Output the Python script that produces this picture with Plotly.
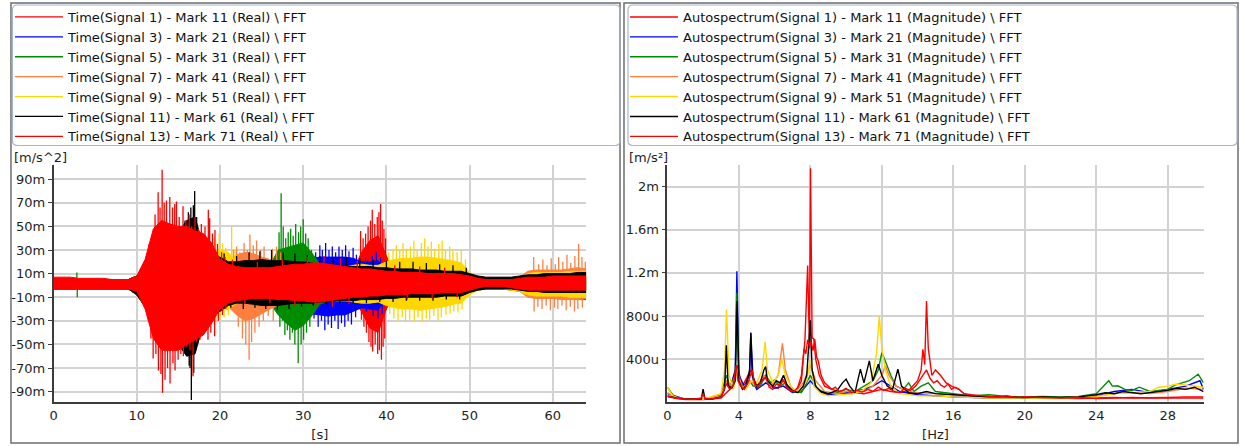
import plotly.graph_objects as go

# ---------------- data ----------------
# time axis of the envelope samples [s]
t_env = list(range(0, 65))

# time signals, values in m/s^2 * 1e-3 ("m")
# dense core of each signal: upper / lower level per second
sig1_top = [5]*10 + [8,18,30,35,35,35,30,25,22,18] + [14]*10 + [13,13,13,13,13,13,12,28,38,42] + \
           [25,9,9,9,9,9,9,9,9,9] + [6]*15
sig1_bot = [-3]*10 + [-8,-18,-30,-35,-35,-35,-30,-25,-22,-18] + [-11]*10 + \
           [-11,-11,-11,-11,-11,-11,-11,-22,-36,-40] + [-20,-7,-7,-7,-7,-7,-7,-7,-7,-7] + [-3]*15
sig3_top = [5]*10 + [8,18,30,35,35,35,30,25,22,16] + [14,13,13,13,13,13,13,13,14,15] + \
           [18,23,24,24,24,24,23,20,20,21] + [12,11,11,11,11,11,11,11,11,11] + [6]*15
sig3_bot = [-3]*10 + [-8,-18,-30,-35,-35,-35,-30,-25,-22,-15] + [-12,-11,-11,-11,-11,-11,-11,-11,-12,-13] + \
           [-18,-24,-25,-26,-25,-25,-22,-19,-20,-21] + [-10,-9,-9,-9,-9,-9,-9,-9,-9,-9] + [-3]*15
sig5_top = [5]*10 + [8,18,30,35,35,35,30,25,22,18] + [16,15,15,15,15,15,17,30,32,34] + \
           [36,28,18,16,15,15,15,15,15,15] + [12]*10 + [7,6,5,5,5,6,7,9,10,10] + [10,11,11,12,12]
sig5_bot = [-3]*10 + [-8,-18,-30,-35,-35,-35,-30,-25,-22,-18] + [-15,-13,-13,-13,-13,-13,-15,-25,-32,-38] + \
           [-34,-26,-16,-13,-13,-13,-13,-13,-13,-13] + [-10]*10 + [-5,-4,-3,-3,-3,-4,-5,-8,-9,-10] + \
           [-10,-11,-11,-12,-12]
sig7_top = [5]*10 + [8,18,30,35,35,35,30,25,22,20] + [18,20,26,28,27,24,22,20,18,17] + \
           [16,15,15,15,15,15,15,15,15,15] + [12]*10 + [7,6,5,5,5,6,7,12,13,13] + [13,13,14,15,14]
sig7_bot = [-3]*10 + [-8,-18,-30,-35,-35,-35,-30,-25,-22,-20] + [-17,-18,-25,-30,-28,-24,-20,-17,-15,-14] + \
           [-13]*10 + [-10]*10 + [-5,-4,-3,-3,-3,-4,-5,-10,-11,-11] + [-11,-12,-12,-12,-11]
sig9_top = [5]*10 + [8,18,30,35,35,35,30,28,28,30] + [30,28,20,18,18,17,17,16,16,16] + \
           [16,16,16,16,16,16,17,18,17,17] + [20,22,23,23,24,24,23,22,21,19] + [11,7,5,5,5,6,7,10,11,11] + \
           [11,11,12,12,12]
sig9_bot = [-3]*10 + [-8,-18,-30,-35,-35,-35,-30,-28,-26,-22] + [-22,-20,-15,-14,-14,-13,-13,-13,-13,-13] + \
           [-13,-13,-13,-13,-13,-13,-14,-15,-15,-14] + [-17,-19,-20,-20,-21,-20,-19,-18,-16,-15] + \
           [-8,-4,-3,-3,-3,-4,-5,-8,-9,-9] + [-9,-9,-10,-10,-10]
sig11_top = [5]*10 + [8,18,30,38,42,45,55,58,33,25] + [24,20,20,21,21,22,21,21,21,20] + \
            [20,19,18,18,17,17,16,16,16,15] + [15,14,14,14,13,13,13,12,12,12] + [10,8,7,7,7,7,8,9,9,10] + \
            [10,10,10,11,11]
sig11_bot = [-3]*10 + [-8,-18,-30,-38,-45,-50,-60,-58,-33,-24] + [-22,-17,-15,-15,-16,-17,-17,-17,-16,-15] + \
            [-15,-15,-14,-14,-13,-13,-13,-12,-12,-12] + [-11,-11,-10,-10,-10,-10,-10,-9,-9,-9] + \
            [-6,-4,-3,-3,-3,-3,-4,-5,-5,-6] + [-6,-6,-6,-6,-6]
sig13_top = [7,7,7,6,6,6,6,5,5,5] + [8,22,48,55,52,50,50,46,44,36] + [22,18,16,15,15,15,15,16,17,18] + \
            [18,19,19,18,17,16,15,14,14,13] + [12,12,11,11,11,10,10,10,10,9] + [8,6,5,5,5,5,6,7,7,7] + \
            [8,8,8,8,8]
sig13_bot = [-3]*10 + [-5,-20,-45,-55,-55,-55,-50,-46,-42,-32] + [-20,-15,-13,-12,-11,-11,-11,-12,-12,-13] + \
            [-13,-14,-14,-13,-12,-11,-10,-10,-9,-9] + [-8,-8,-8,-7,-7,-7,-7,-6,-6,-6] + \
            [-4,-2,-1,-1,-1,-2,-3,-4,-4,-4] + [-4]*5

# individual peaks sticking out of the core: time [s], value ("m")
sig1_spk_t = [36.9,37.0,37.2,37.3,37.5,37.6,37.8,37.9,38.1,38.15,38.3,38.35,38.6,38.65,38.9,38.95,
              39.1,39.15,39.3,39.4,39.5,39.6,39.7,39.8,39.9]
sig1_spk_v = [46,-29,40,-35,44,-40,50,-48,55,-52,64,-56,52,-50,58,-58,62,-55,69,-63,55,-52,48,-45,40]
sig3_spk_t = [31.3,31.5,31.8,32.0,32.2,32.3,32.6,32.7,33.0,33.1,33.4,33.5,33.8,33.9,34.2,34.3,34.6,34.7,
              35.0,35.1,35.4,35.5,35.8,36.0,36.3,36.4,37.5,37.6,38.3,38.4,38.8,39.0,39.3,39.5]
sig3_spk_v = [-28,28,-35,34,-30,30,-38,36,-33,30,-36,33,-30,28,-37,33,-32,30,-35,34,-30,29,-33,32,-27,26,
              24,-22,25,-26,28,-28,24,-24]
sig5_spk_t = [2.8,2.85,27.1,27.2,27.35,27.5,27.6,27.8,27.9,28.1,28.2,28.4,28.5,28.7,28.8,29.0,29.1,29.4,
              29.45,29.7,29.75,30.0,30.05,30.3,30.4,30.6,30.8,31.0]
sig5_spk_v = [11,-10,45,-35,78,-30,50,-42,40,-38,45,-46,48,-40,42,-50,52,-66,45,50,-50,56,-46,44,-40,40,-35,30]
sig7_spk_t = [21.6,22.0,22.2,22.4,22.7,22.9,23.1,23.3,23.5,23.6,23.8,24.0,24.2,24.4,24.7,24.9,25.2,25.3,
              25.8,26.3,26.4,26.8,27.3,57.7,57.75,58.2,58.3,58.7,58.8,59.2,59.3,59.7,59.8,60.2,60.3,60.6,
              60.7,61.1,61.2,61.6,61.7,62.1,62.15,62.6,62.65,63.0,63.1,63.5,63.55,63.9]
sig7_spk_v = [30,33,-35,28,-45,36,-50,30,-63,43,-48,34,-40,38,-35,30,-30,33,-26,31,-30,33,28,24,-22,-18,18,
              -20,22,-17,17,-21,23,-19,18,-20,24,-17,20,-21,26,-18,19,-22,25,-20,35,24,-19,20]
sig9_spk_t = [19.3,19.5,19.9,20.0,20.3,20.5,20.7,21.0,21.4,21.8,40.3,40.4,40.8,40.9,41.2,41.4,41.6,41.9,
              42.0,42.3,42.4,42.8,42.9,43.3,43.35,43.7,43.8,44.2,44.3,44.6,44.8,45.0,45.2,45.4,45.7,45.8,
              46.2,46.3,46.6,46.7,47.1,47.15,47.6,47.65,48.0,48.1,48.5,48.6,49.0,49.1,49.5]
sig9_spk_v = [40,-30,44,-29,36,-27,32,-25,50,30,28,-24,30,-28,34,-30,30,-27,36,-31,31,-29,33,38,-30,30,-27,
              36,-31,40,-28,33,-29,37,-26,31,-30,35,-27,38,30,-25,33,-24,30,-22,28,-23,30,-20,22]
sig11_spk_t = [15.8,15.9,16.2,16.3,16.4,16.5,16.56,16.8,16.85,16.96,17.1,17.2,
               20.5,21.3,22.0,22.8,23.5,24.2,24.8,25.5,26.2,26.9,27.6,28.3,29.0,29.8,30.5,31.2,32.0,32.8,
               33.6,34.4,35.2,36.0,36.8,37.6,38.4,39.2,40.0,40.8,41.6,42.4,43.2,44.0,44.8,45.6,46.4,47.2,
               48.0,48.8,49.6]
sig11_spk_v = [55,-55,62,-68,-70,66,-97,68,-74,80,-55,58,
               27,-19,25,-20,28,-19,29,-20,30,-21,28,-20,27,-18,26,-17,25,-16,
               24,-16,24,-15,23,-15,22,-14,21,-14,20,-13,20,-13,19,-13,18,-12,
               17,-12,15]
sig13_spk_t = [11.4,11.5,11.7,11.8,11.97,12.2,12.3,12.57,12.6,12.8,12.9,13.05,13.09,13.3,13.4,13.57,13.7,
               13.97,14.0,14.3,14.35,14.56,14.6,14.77,14.97,15.1,15.3,15.56,15.6,15.9,16.0,16.3,16.4,16.6,
               16.76,17.0,17.2,17.4,17.6,17.76,18.0,18.2,18.56,18.6,18.76,18.9,19.1,19.36,19.4,19.7,19.8,
               20.2,20.3,20.6,20.7,
               21.5,23.0,24.5,26.0,27.5,29.0,30.5,31.5,32.5,33.5,34.5,35.5,36.5,41.0,42.5,44.0,45.5,47.0,48.5]
sig13_spk_v = [-30,35,-45,42,-62,60,-58,79,-72,66,-75,98,-91,70,-80,72,-70,75,-83,66,-66,69,-72,71,-63,58,
               -58,67,-60,55,-52,60,-55,50,-77,58,-48,48,-46,52,-42,50,-46,64,57,-40,44,-43,47,35,-30,28,
               -25,24,-20,
               22,-16,20,-15,22,-17,24,-19,25,-18,23,-16,21,17,-12,16,-11,15,-10]

# autospectra: frequency [Hz] and magnitude in (m/s^2) * 1e-6 ("u")
spec1_f = [0,1,2,3,3.5,3.9,4.2,4.67,5.0,5.47,5.8,6.2,6.44,6.8,7.2,7.5,7.7,7.85,7.95,8.01,8.1,8.2,8.3,8.5,8.8,
           9.2,9.6,10,10.5,11,11.5,12,12.5,13,13.5,14.0,14.2,14.3,14.4,14.5,14.6,14.8,15.0,15.3,15.6,15.9,
           16.3,16.6,17,18,19,20,21,22,23,24,25,26,27,28,29,30]
spec1_v = [50,25,25,40,120,344,150,298,130,245,150,130,215,120,100,200,585,1267,500,2170,600,585,400,250,150,
           120,100,80,90,80,100,120,100,90,110,200,300,492,350,938,500,250,300,246,180,150,
           123,80,60,50,50,45,40,40,35,40,45,40,40,45,50,50]
spec3_f = [0,1,2,3,3.3,3.5,3.8,3.89,4.0,4.3,4.6,4.67,4.8,5,5.5,6,6.5,7,7.5,8,8.5,9,10,11,11.5,12,12.5,13,14,
           15,16,18,20,22,24,25,26,27,28,29,29.8,30]
spec3_v = [80,30,30,60,200,120,300,1215,250,150,250,646,200,120,180,130,150,90,100,200,100,70,90,120,150,200,
           150,100,70,60,50,40,40,40,60,100,120,90,120,150,200,120]
spec5_f = [0,0.3,0.6,1,2,2.5,3,3.3,3.5,3.8,3.89,4.0,4.3,4.6,4.8,5.2,5.5,5.8,6.0,6.3,6.6,7,7.5,8,8.4,9,9.5,10,
           10.5,11,11.5,11.8,12.0,12.2,12.5,12.8,13.2,13.5,13.8,14.2,14.6,15,16,17,18,19,20,21,22,23,24,24.7,
           24.9,25.2,25.6,26,26.4,27,27.5,28,28.4,28.8,29.2,29.7,30]
spec5_v = [140,70,40,30,30,35,70,250,150,250,1015,200,130,200,150,150,250,180,210,150,180,100,90,250,120,80,90,
           120,100,150,200,300,461,380,250,150,120,180,100,150,180,100,80,60,70,55,50,55,50,55,80,200,
           150,153,120,110,140,100,110,120,160,180,200,261,180]
spec7_f = [0,0.5,1,2,3,3.3,3.6,3.9,4.2,4.6,5.0,5.4,5.8,6.2,6.44,6.6,6.9,7.2,7.6,8,8.3,8.8,9.5,10,11,11.5,12.0,
           12.2,12.4,12.8,13.5,14,15,16,17,18,20,22,24,25,26,27,28,29,30]
spec7_v = [90,40,30,30,60,200,150,300,130,200,150,250,150,250,547,300,150,100,180,350,200,100,80,100,100,150,
           250,338,250,150,100,90,80,70,60,50,45,40,60,80,90,80,100,130,120]
spec9_f = [0,0.3,0.6,1,2,3.0,3.2,3.31,3.45,3.7,3.9,4.1,4.4,4.7,5.0,5.3,5.47,5.6,5.9,6.2,6.4,6.6,7.0,7.4,7.8,
           8.0,8.2,8.6,9,10,10.5,11,11.4,11.7,11.86,12.0,12.2,12.5,13,14,15,16,18,20,22,24,25,26,27,27.5,
           28,28.5,29,29.5,30]
spec9_v = [140,60,40,30,30,80,300,861,250,120,300,150,120,200,180,300,560,300,180,250,400,250,120,100,200,
           400,150,80,60,70,80,120,180,450,800,500,300,150,80,60,60,50,40,40,40,50,80,90,100,140,
           150,170,160,150,140]
spec11_f = [0,0.5,1,1.5,1.9,2.0,2.1,2.5,3.0,3.2,3.3,3.4,3.6,3.8,3.9,4.0,4.2,4.4,4.6,4.67,4.75,5.0,5.2,5.4,
            5.5,5.6,5.9,6.1,6.3,6.5,6.7,7.0,7.3,7.6,7.8,8.0,8.1,8.3,8.6,9.0,9.5,9.8,10.0,10.2,10.5,10.8,
            11.0,11.3,11.5,11.8,12.0,12.3,12.6,12.9,13.1,13.5,14,14.5,15,16,17,18,19,20,21,22,23,24,24.5,
            25,25.5,26,26.5,27,27.5,28,28.5,29,29.5,30]
spec11_v = [60,40,30,28,30,123,35,30,50,120,529,150,130,200,938,200,120,150,300,640,250,150,180,300,
            330,200,150,200,180,250,160,110,90,150,250,760,300,150,100,80,110,180,215,150,90,307,
            180,384,200,353,250,150,120,307,150,90,80,100,80,70,60,50,50,45,50,45,50,70,90,
            80,100,90,80,90,100,110,130,120,140,100]
spec13_f = [0,0.5,1,1.5,1.9,2.0,2.1,2.5,3.0,3.3,3.5,3.7,3.85,3.95,4.1,4.3,4.5,4.65,4.75,4.9,5.1,5.3,5.5,5.7,
            5.9,6.1,6.3,6.5,6.7,6.9,7.1,7.3,7.5,7.65,7.75,7.85,7.95,8.05,8.15,8.25,8.35,8.45,8.6,8.8,9.0,
            9.2,9.4,9.6,9.8,10.0,10.3,10.6,10.9,11.2,11.5,11.8,12.1,12.4,12.7,13.0,13.3,13.6,13.9,14.1,
            14.3,14.5,14.7,14.9,15.1,15.3,15.5,15.7,15.9,16.1,16.3,16.6,17,17.5,18,18.5,19,19.5,20,21,
            22,23,24,25,26,27,28,29,30]
spec13_v = [60,35,30,28,40,80,35,30,45,170,120,160,344,200,150,120,180,250,298,160,150,200,230,140,
            120,170,150,210,130,110,100,140,250,500,450,580,520,560,480,585,420,380,250,180,150,
            120,140,100,110,130,90,110,95,120,100,140,110,130,100,90,130,110,150,200,
            250,300,220,180,200,160,140,170,120,140,123,80,70,60,55,50,60,45,50,45,
            40,45,35,40,45,40,38,42,40]

time_names = ["Time(Signal 1) - Mark 11 (Real) \\ FFT", "Time(Signal 3) - Mark 21 (Real) \\ FFT",
              "Time(Signal 5) - Mark 31 (Real) \\ FFT", "Time(Signal 7) - Mark 41 (Real) \\ FFT",
              "Time(Signal 9) - Mark 51 (Real) \\ FFT", "Time(Signal 11) - Mark 61 (Real) \\ FFT",
              "Time(Signal 13) - Mark 71 (Real) \\ FFT"]
spec_names = ["Autospectrum(Signal 1) - Mark 11 (Magnitude) \\ FFT",
              "Autospectrum(Signal 3) - Mark 21 (Magnitude) \\ FFT",
              "Autospectrum(Signal 5) - Mark 31 (Magnitude) \\ FFT",
              "Autospectrum(Signal 7) - Mark 41 (Magnitude) \\ FFT",
              "Autospectrum(Signal 9) - Mark 51 (Magnitude) \\ FFT",
              "Autospectrum(Signal 11) - Mark 61 (Magnitude) \\ FFT",
              "Autospectrum(Signal 13) - Mark 71 (Magnitude) \\ FFT"]
colors = ["#FF0000", "#0000FF", "#008C00", "#FF7F3F", "#FFD700", "#000000", "#FF0000"]

time_y_ticks = [-90, -70, -50, -30, -10, 10, 30, 50, 70, 90]
time_x_ticks = [0, 10, 20, 30, 40, 50, 60]
spec_y_ticks = [400, 800, 1200, 1600, 2000]
spec_y_text = ["400u", "800u", "1.2m", "1.6m", "2m"]
spec_x_ticks = [0, 4, 8, 12, 16, 20, 24, 28]

# ---------------- figure ----------------
W, H = 1242, 446
def px(x):
    return x / W
def py(y):
    return 1 - y / H

FONT = "DejaVu Sans"
fig = go.Figure()

tops = [sig1_top, sig3_top, sig5_top, sig7_top, sig9_top, sig11_top, sig13_top]
bots = [sig1_bot, sig3_bot, sig5_bot, sig7_bot, sig9_bot, sig11_bot, sig13_bot]
spk_t = [sig1_spk_t, sig3_spk_t, sig5_spk_t, sig7_spk_t, sig9_spk_t, sig11_spk_t, sig13_spk_t]
spk_v = [sig1_spk_v, sig3_spk_v, sig5_spk_v, sig7_spk_v, sig9_spk_v, sig11_spk_v, sig13_spk_v]
for i in range(7):
    xs = t_env + t_env[::-1]
    ys = [v * 1e-3 for v in tops[i]] + [v * 1e-3 for v in bots[i][::-1]]
    fig.add_trace(go.Scatter(x=xs, y=ys, mode="lines", fill="toself", fillcolor=colors[i],
                             line=dict(color=colors[i], width=1), showlegend=False,
                             legendgroup="t%d" % i, hoverinfo="skip", xaxis="x", yaxis="y"))
    sx, sy = [], []
    for t, v in zip(spk_t[i], spk_v[i]):
        sx += [t, t, None]
        sy += [0, v * 1e-3, None]
    fig.add_trace(go.Scatter(x=sx, y=sy, mode="lines", name=time_names[i],
                             line=dict(color=colors[i], width=1.3), legendgroup="t%d" % i,
                             legend="legend", xaxis="x", yaxis="y"))

spec_f = [spec1_f, spec3_f, spec5_f, spec7_f, spec9_f, spec11_f, spec13_f]
spec_v = [spec1_v, spec3_v, spec5_v, spec7_v, spec9_v, spec11_v, spec13_v]
for i in range(7):
    fig.add_trace(go.Scatter(x=spec_f[i], y=[v * 1e-6 for v in spec_v[i]], mode="lines",
                             name=spec_names[i], line=dict(color=colors[i], width=1.4),
                             legend="legend2", xaxis="x2", yaxis="y2"))

axis_common = dict(showgrid=True, gridcolor="#D2D2D2", gridwidth=2, zeroline=False,
                   showline=True, linecolor="#3C3C3C", linewidth=1.5,
                   tickfont=dict(family=FONT, size=13, color="#1E1E1E"))
ydom = [py(402.3), py(165)]
leg_common = dict(xanchor="left", yanchor="top", bgcolor="rgba(0,0,0,0)", borderwidth=0,
                  traceorder="normal", itemwidth=48,
                  font=dict(family=FONT, size=13, color="#111"))

fig.update_layout(
    width=W, height=H, autosize=False,
    margin=dict(l=0, r=0, t=0, b=0),
    paper_bgcolor="white", plot_bgcolor="white",
    font=dict(family=FONT, size=13, color="#1E1E1E"),
    xaxis=dict(domain=[px(49.7), px(584)], range=[0, 64], tickvals=time_x_ticks,
               ticks="", title=dict(text="[s]", standoff=8, font=dict(family=FONT, size=13)),
               **axis_common),
    yaxis=dict(domain=ydom, range=[-99e-3, 102e-3], tickvals=[v * 1e-3 for v in time_y_ticks],
               ticktext=["%dm" % v for v in time_y_ticks], ticks="outside", ticklen=4,
               tickcolor="#3C3C3C", **axis_common),
    xaxis2=dict(domain=[px(665.5), px(1203.4)], range=[0, 30], tickvals=spec_x_ticks, ticks="",
                title=dict(text="[Hz]", standoff=8, font=dict(family=FONT, size=13)),
                anchor="y2", **axis_common),
    yaxis2=dict(domain=ydom, range=[0, 2.2e-3], tickvals=[v * 1e-6 for v in spec_y_ticks],
                ticktext=spec_y_text, ticks="outside", ticklen=4, tickcolor="#3C3C3C",
                anchor="x2", **axis_common),
    legend=dict(x=px(6), y=py(2), **leg_common),
    legend2=dict(x=px(623), y=py(2), **leg_common),
    showlegend=True,
)

def rounded_rect(x0, y0, x1, y1, r):
    X0, X1 = px(x0), px(x1)
    Y0, Y1 = py(y0), py(y1)
    rx, ry = r / W, r / H
    return (f"M{X0 + rx},{Y0} L{X1 - rx},{Y0} Q{X1},{Y0} {X1},{Y0 - ry} "
            f"L{X1},{Y1 + ry} Q{X1},{Y1} {X1 - rx},{Y1} L{X0 + rx},{Y1} "
            f"Q{X0},{Y1} {X0},{Y1 + ry} L{X0},{Y0 - ry} Q{X0},{Y0} {X0 + rx},{Y0} Z")

shapes = []
for (fx0, fx1) in [(7, 618), (622, 1238)]:
    shapes.append(dict(type="rect", xref="paper", yref="paper", x0=px(fx0), x1=px(fx1),
                       y0=py(443), y1=py(3), line=dict(color="#6E6E6E", width=1.5),
                       fillcolor="rgba(0,0,0,0)", layer="below"))
for (lx0, lx1) in [(8.5, 618), (626, 1237)]:
    shapes.append(dict(type="path", xref="paper", yref="paper",
                       path=rounded_rect(lx0, 5, lx1, 145.5, 5),
                       line=dict(color="#A6B6CE", width=1.2), fillcolor="rgba(0,0,0,0)"))
fig.update_layout(shapes=shapes)

fig.add_annotation(x=px(8), y=py(157), xref="paper", yref="paper", text="[m/s^2]", showarrow=False,
                   xanchor="left", yanchor="middle", font=dict(family=FONT, size=13, color="#1E1E1E"))
fig.add_annotation(x=px(625), y=py(157), xref="paper", yref="paper", text="[m/s²]", showarrow=False,
                   xanchor="left", yanchor="middle", font=dict(family=FONT, size=13, color="#1E1E1E"))

fig.write_html("out.html", config={"displayModeBar": False},
               post_script="document.body.style.margin='0px';")
